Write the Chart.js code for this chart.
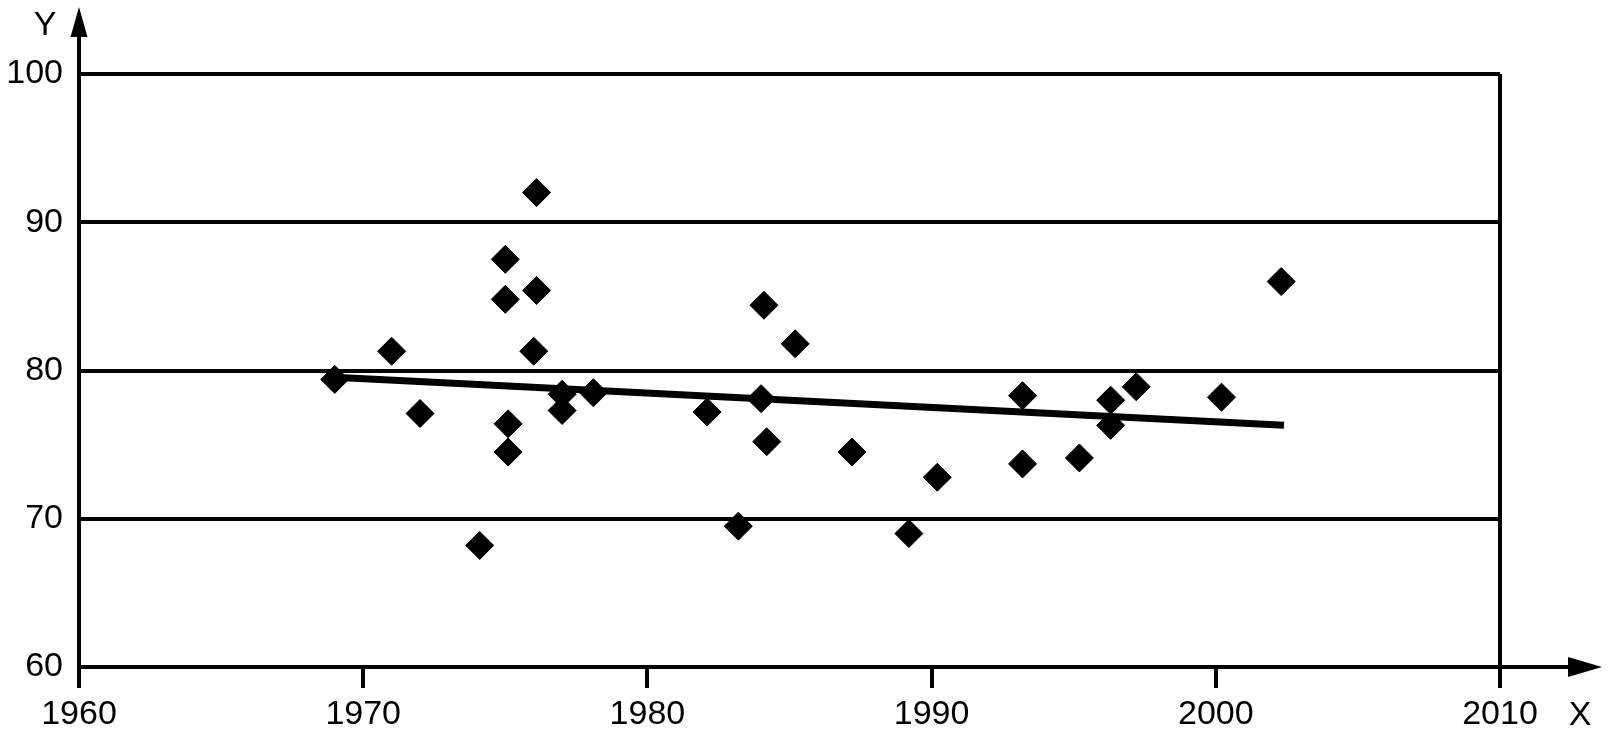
<!DOCTYPE html>
<html>
<head>
<meta charset="utf-8">
<script src="https://cdn.jsdelivr.net/npm/chart.js@4.4.0/dist/chart.umd.min.js"></script>
<style>
  html, body { margin: 0; padding: 0; background: #fff; }
  canvas { display: block; }
</style>
</head>
<body>
<canvas id="chart" width="1609" height="736"></canvas>
<script>
// scatter values
const years = [1969.0, 1971.0, 1972.0, 1974.1, 1975.0, 1975.0, 1975.1, 1975.1,
  1976.1, 1976.1, 1976.0, 1977.0, 1977.0, 1978.1, 1982.1, 1983.2, 1984.1, 1984.0,
  1984.2, 1985.2, 1987.2, 1989.2, 1990.2, 1993.2, 1993.2, 1995.2, 1996.3, 1996.3,
  1997.2, 2000.2, 2002.3];
const values = [79.4, 81.3, 77.1, 68.2, 87.5, 84.8, 76.4, 74.5,
  92.0, 85.4, 81.3, 78.4, 77.3, 78.5, 77.2, 69.5, 84.4, 78.1,
  75.2, 81.8, 74.5, 69.0, 72.8, 78.3, 73.7, 74.1, 78.0, 76.3,
  78.9, 78.2, 86.0];

// trend line end points
const trendYears = [1969.0, 2002.4];
const trendValues = [79.55, 76.3];

const xMin = 1960, xMax = 2010, xStep = 10;
const yMin = 60, yMax = 100, yStep = 10;

const FONT = '"Liberation Sans", Arial, Helvetica, sans-serif';

// axis lines with arrows and the X / Y names
const axisArrows = {
  id: 'axisArrows',
  afterDraw(chart) {
    const ctx = chart.ctx;
    const x = chart.scales.x, y = chart.scales.y;
    const x0 = x.getPixelForValue(xMin);
    const y0 = y.getPixelForValue(yMin);
    ctx.save();
    ctx.strokeStyle = '#000';
    ctx.fillStyle = '#000';
    ctx.lineWidth = 4;
    ctx.beginPath();
    ctx.moveTo(x0, y0 + 21);
    ctx.lineTo(x0, 30);
    ctx.moveTo(x0, y0);
    ctx.lineTo(1575, y0);
    ctx.stroke();

    ctx.beginPath();
    ctx.moveTo(x0, 7);
    ctx.lineTo(x0 - 8.5, 37);
    ctx.lineTo(x0 + 8.5, 37);
    ctx.closePath();
    ctx.fill();

    ctx.beginPath();
    ctx.moveTo(1602, y0);
    ctx.lineTo(1568, y0 - 10);
    ctx.lineTo(1568, y0 + 10);
    ctx.closePath();
    ctx.fill();

    ctx.font = '34px ' + FONT;
    ctx.textAlign = 'center';
    ctx.textBaseline = 'alphabetic';
    ctx.fillText('Y', 45, 35);
    ctx.fillText('X', 1580, 725);
    ctx.restore();
  }
};

const ctx = document.getElementById('chart').getContext('2d');
const chart = new Chart(ctx, {
  type: 'scatter',
  data: {
    datasets: [{
      label: 'data',
      data: years.map((yr, i) => ({ x: yr, y: values[i] })),
      pointStyle: 'rectRot',
      pointRadius: 14,
      pointHoverRadius: 14,
      backgroundColor: '#000',
      borderColor: '#000',
      borderWidth: 1,
      order: 1
    }, {
      type: 'line',
      label: 'trend',
      data: trendYears.map((yr, i) => ({ x: yr, y: trendValues[i] })),
      borderColor: '#000',
      borderWidth: 7,
      pointRadius: 0,
      fill: false,
      order: 2
    }]
  },
  options: {
    responsive: false,
    animation: false,
    devicePixelRatio: 1,
    layout: { padding: { left: 0, right: 109, top: 74, bottom: 0 } },
    plugins: {
      legend: { display: false },
      tooltip: { enabled: false }
    },
    scales: {
      x: {
        type: 'linear',
        min: xMin,
        max: xMax,
        afterFit: (s) => { s.height = 69; },
        border: { display: false },
        grid: {
          color: (c) => (c.tick && c.tick.value === xMax) ? '#000' : 'rgba(0,0,0,0)',
          tickColor: '#000',
          lineWidth: 4,
          tickLength: 21,
          drawTicks: true
        },
        ticks: {
          stepSize: xStep,
          color: '#000',
          padding: 6,
          maxRotation: 0,
          callback: (v) => String(v),
          font: { family: FONT, size: 34 }
        }
      },
      y: {
        type: 'linear',
        min: yMin,
        max: yMax,
        afterFit: (s) => { s.width = 79; },
        border: { display: false },
        grid: {
          color: '#000',
          lineWidth: 4,
          drawTicks: false
        },
        ticks: {
          stepSize: yStep,
          color: '#000',
          padding: 16,
          callback: (v) => String(v),
          font: { family: FONT, size: 34 }
        }
      }
    }
  },
  plugins: [axisArrows]
});
</script>
</body>
</html>
